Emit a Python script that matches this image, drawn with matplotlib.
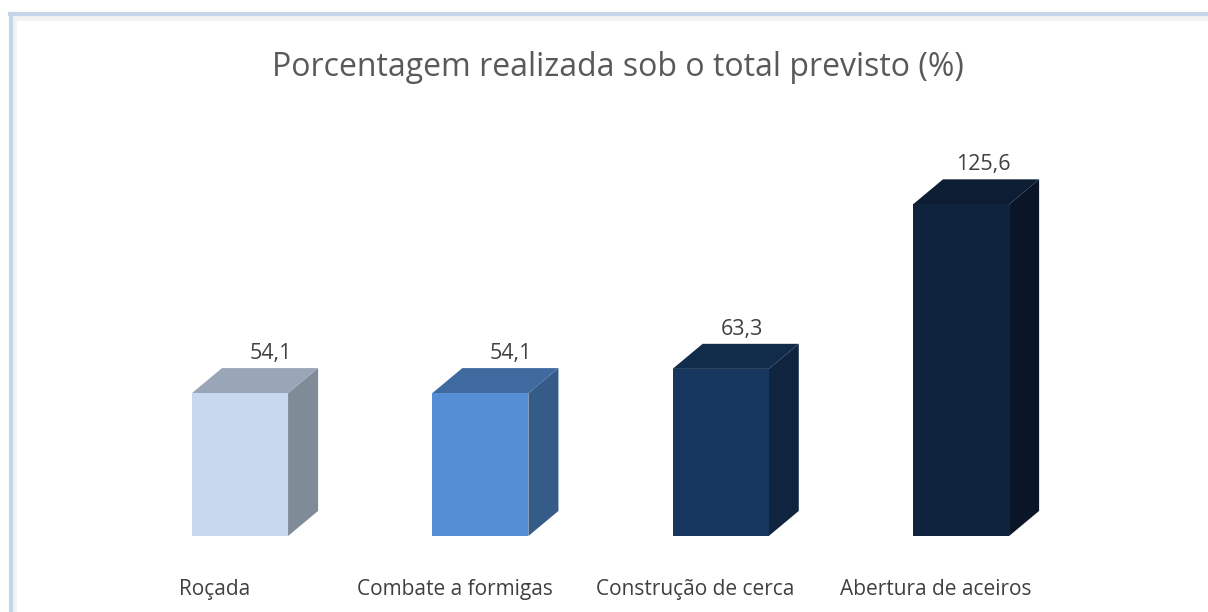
import matplotlib
matplotlib.use("Agg")
import matplotlib.pyplot as plt
from matplotlib.patches import Polygon, Rectangle
from matplotlib.lines import Line2D

# ---- data ----
categories = ["Roçada", "Combate a formigas", "Construção de cerca", "Abertura de aceiros"]
values = [54.1, 54.1, 63.3, 125.6]
value_labels = ["54,1", "54,1", "63,3", "125,6"]
title = "Porcentagem realizada sob o total previsto (%)"

# ---- style ----
front_colors = ["#C7D9EF", "#558ED5", "#17375E", "#10233E"]
side_colors = ["#7F8B97", "#355B88", "#10243F", "#0A1628"]
top_colors = ["#98A6B8", "#3F6AA0", "#112B4B", "#0D1D33"]
bar_w = 0.40
dx = 0.125       # depth offset in x (data units)
dy = 9.5         # depth offset in y (data units)
label_dx = [0.129, 0.125, 0.087, 0.092]
label_dy = 12.9

W, H = 1208, 612
fig = plt.figure(figsize=(W / 100, H / 100), dpi=100)
fig.patch.set_facecolor("white")

# frame lines (figure pixel coords)
fig.add_artist(Rectangle((11 / W, 0), 6 / W, 1 - 20 / H, transform=fig.transFigure,
                         facecolor="#F2F2F2", edgecolor="none"))
fig.add_artist(Rectangle((11 / W, 1 - 21 / H), 1, 6 / H, transform=fig.transFigure,
                         facecolor="#F2F2F2", edgecolor="none"))
fig.add_artist(Line2D([11 / W, 11 / W], [0, 1 - 14 / H], transform=fig.transFigure,
                      color="#C6D6EA", lw=3))
fig.add_artist(Line2D([10 / W, 1], [1 - 14 / H, 1 - 14 / H], transform=fig.transFigure,
                      color="#C6D6EA", lw=3))

ax = fig.add_axes([0, 0, 1, 1])
ax.set_facecolor("none")
px_per_cat = (961 - 240) / 3
px_per_val = 2.64
ax.set_xlim(-240 / px_per_cat, 3 + (W - 961) / px_per_cat)
ax.set_ylim(-76 / px_per_val, (H - 76) / px_per_val)
ax.axis("off")

for i, v in enumerate(values):
    x0 = i - bar_w / 2
    x1 = i + bar_w / 2
    # side face
    ax.add_patch(Polygon([(x1, 0), (x1 + dx, dy), (x1 + dx, v + dy), (x1, v)],
                         closed=True, facecolor=side_colors[i], edgecolor="none"))
    # top face
    ax.add_patch(Polygon([(x0, v), (x0 + dx, v + dy), (x1 + dx, v + dy), (x1, v)],
                         closed=True, facecolor=top_colors[i], edgecolor="none"))
    ax.bar(i, v, width=bar_w, color=front_colors[i], edgecolor="none", zorder=3)
    ax.text(i + label_dx[i], v + label_dy, value_labels[i], ha="center", va="baseline",
            fontsize=15.5, color="#404040", family="Open Sans")
    ax.text(i - 0.104, -22.3, categories[i], ha="center", va="baseline",
            fontsize=15, color="#404040", family="Open Sans")

fig.text(618 / W, 1 - 76 / H, title, ha="center", va="baseline", fontsize=23,
         color="#595959", family="Open Sans")

fig.savefig("out.png", dpi=100)
